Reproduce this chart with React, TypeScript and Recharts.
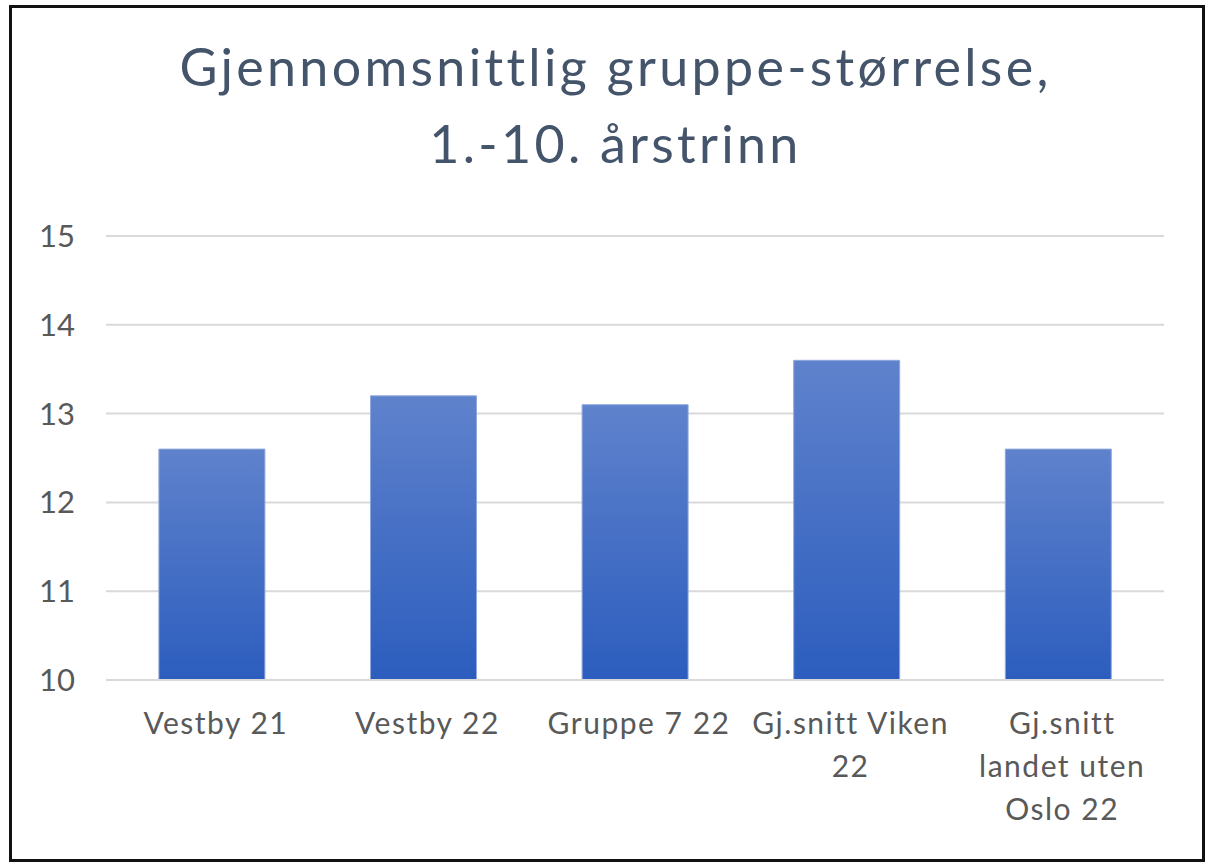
import { BarChart, Bar, XAxis, YAxis, CartesianGrid } from 'recharts';

const categories = [
  'Vestby 21',
  'Vestby 22',
  'Gruppe 7 22',
  'Gj.snitt Viken\n22',
  'Gj.snitt\nlandet uten\nOslo 22',
];
const values = [12.6, 13.2, 13.1, 13.6, 12.6];
const yTicks = [10, 11, 12, 13, 14, 15];

const data = categories.map((name, i) => ({ name, value: values[i] }));

const FONT = 'Lato, "Open Sans", sans-serif';
const TEXT = '#595959';

const CategoryTick = (props: any) => {
  const { x, y, payload } = props;
  const lines = String(payload.value).split('\n');
  return (
    <g transform={`translate(${x + 4},${y})`}>
      {lines.map((line: string, i: number) => (
        <text
          key={i}
          x={0}
          y={i * 43}
          dy={46}
          textAnchor="middle"
          fill={TEXT}
          fontSize={30}
          letterSpacing={1.5}
          fontFamily={FONT}
        >
          {line}
        </text>
      ))}
    </g>
  );
};

const App = () => {
  return (
    <div
      style={{
        position: 'fixed',
        left: 0,
        top: 0,
        width: 1207,
        height: 864,
        background: '#fff',
        overflow: 'hidden',
      }}
    >
      <div
        style={{
          position: 'absolute',
          left: 9,
          top: 5,
          width: 1196,
          height: 857,
          border: '3px solid #111',
          boxSizing: 'border-box',
        }}
      />
      <div
        style={{
          position: 'absolute',
          left: 12,
          top: 28,
          width: 1207,
          textAlign: 'center',
          fontFamily: FONT,
          fontSize: 52,
          letterSpacing: 3.3,
          lineHeight: '77px',
          color: '#44546A',
        }}
      >
        Gjennomsnittlig gruppe-størrelse,
        <br />
        1.-10. årstrinn
      </div>
      <div style={{ position: 'absolute', left: 0, top: 0 }}>
        <BarChart
          width={1207}
          height={864}
          data={data}
          margin={{ top: 236, right: 43, bottom: 4, left: 0 }}
          barCategoryGap="25%"
        >
          <defs>
            <linearGradient id="barFill" x1="0" y1="0" x2="0" y2="1">
              <stop offset="0%" stopColor="#5F82CC" />
              <stop offset="100%" stopColor="#2C5DBE" />
            </linearGradient>
          </defs>
          <CartesianGrid vertical={false} stroke="#D9D9D9" strokeWidth={2} />
          <XAxis
            dataKey="name"
            height={180}
            tick={<CategoryTick />}
            tickLine={false}
            axisLine={{ stroke: '#D9D9D9', strokeWidth: 2 }}
            interval={0}
          />
          <YAxis
            domain={[10, 15]}
            ticks={yTicks}
            width={106}
            axisLine={false}
            tickLine={false}
            tickMargin={25}
            tick={{ fill: TEXT, fontSize: 31, fontFamily: FONT }}
          />
          <Bar
            dataKey="value"
            fill="url(#barFill)"
            stroke="#8FA9DD"
            strokeWidth={1}
            isAnimationActive={false}
          />
        </BarChart>
      </div>
    </div>
  );
};

export default App;
